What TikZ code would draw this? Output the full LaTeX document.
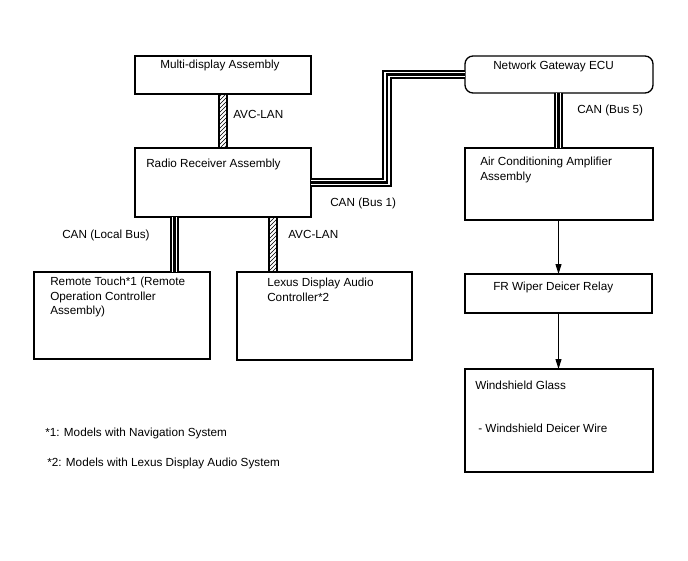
\documentclass[tikz,border=0pt]{standalone}
\usepackage{fontspec}
\setmainfont{Liberation Sans}
\usetikzlibrary{patterns,arrows.meta}
\newcommand\mkbox[5]{\node[boxst,minimum width=#4*0.75pt,minimum height=#5*0.75pt,anchor=north west] (#1) at (#2,#3) {};}
\begin{document}
\begin{tikzpicture}[x=0.75pt,y=-0.75pt,
  boxst/.style={draw,line width=1pt,inner sep=0pt,outer sep=0pt},
  txt/.style={anchor=north west,inner sep=0pt,align=left,font=\fontsize{8.8pt}{10.8pt}\selectfont},
  triple/.style={line width=7.2pt,black,postaction={draw,white,line width=4.2pt},postaction={draw,black,line width=1.6pt}},
  hatch/.style={draw,line width=0.8pt,pattern=north east lines},
  arr/.style={line width=0.75pt,-{Triangle[length=7.5pt,width=4.5pt]}}]
\useasboundingbox (0,0) rectangle (688,560);
% boxes
\mkbox{md}{135}{56}{176}{38}
\mkbox{rr}{135}{148}{176}{69}
\mkbox{rt}{34}{272}{176}{87}
\mkbox{ld}{237}{272}{175}{88}
\node[boxst,rounded corners=6pt,minimum width=188*0.75pt,minimum height=37*0.75pt,anchor=north west] (gw) at (465,56) {};
\mkbox{ac}{465}{148}{188}{72}
\mkbox{fr}{465}{274}{187}{39}
\mkbox{wg}{465}{369}{188}{103}
% texts
\node[txt] (tmd) at (160,60) {Multi-display Assembly};
\node[txt] (trr) at (146,159) {Radio Receiver Assembly};
\node[txt] (tgw) at (493,61) {Network Gateway ECU};
\node[txt] (tac) at (480,157) {Air Conditioning Amplifier\\[0.6pt]Assembly};
\node[txt] (trt) at (50,277) {Remote Touch*1 (Remote\\Operation Controller\\Assembly)};
\node[txt] (tld) at (267,278) {Lexus Display Audio\\Controller*2};
\node[txt] (tfr) at (493,282) {FR Wiper Deicer Relay};
\node[txt] (twg) at (475,381) {Windshield Glass};
\node[txt] (twd) at (478,424) {- Windshield Deicer Wire};
\node[txt] (fn1) at (45,428) {*1: Models with Navigation System};
\node[txt] (fn2) at (47,458) {*2: Models with Lexus Display Audio System};
% connector labels
\node[txt] (l1) at (233,110) {AVC-LAN};
\node[txt] (l2) at (330,198) {CAN (Bus 1)};
\node[txt] (l3) at (577,105) {CAN (Bus 5)};
\node[txt] (l4) at (62,230) {CAN (Local Bus)};
\node[txt] (l5) at (288,230) {AVC-LAN};
% connectors
\draw[hatch] ([xshift=-3pt]md.south) rectangle ([xshift=3pt]rr.north);
\draw[hatch] (269,0 |- rr.south) rectangle (277,0 |- ld.north);
\draw[triple] (174.5,0 |- rr.south) -- (174.5,0 |- rt.north);
\draw[triple] (rr.east) -- (387,0 |- rr.east) -- (387,0 |- gw.west) -- (gw.west);
\draw[triple] (558.5,0 |- gw.south) -- (558.5,0 |- ac.north);
\draw[arr] (558.5,0 |- ac.south) -- (558.5,0 |- fr.north);
\draw[arr] (558.5,0 |- fr.south) -- (558.5,0 |- wg.north);
\end{tikzpicture}
\end{document}
